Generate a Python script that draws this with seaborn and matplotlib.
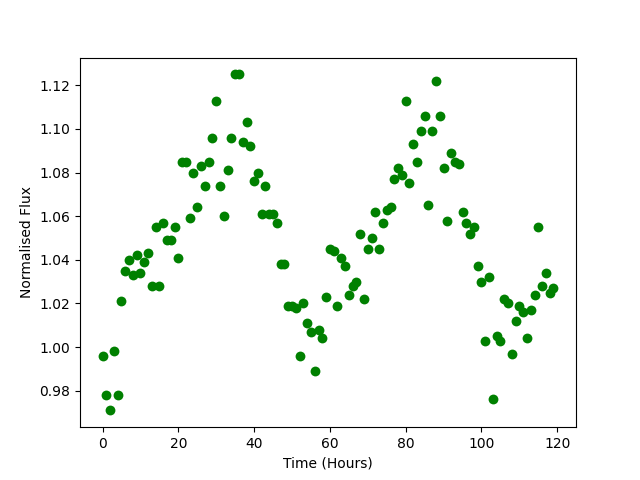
import numpy as np
import pandas as pd
import matplotlib
matplotlib.use("Agg")
import matplotlib.pyplot as plt
import seaborn as sns

# time axis in hours
hours = list(range(120))

# normalised flux
flux = [0.996, 0.978, 0.971, 0.998, 0.978, 1.021, 1.035, 1.040, 1.033, 1.042,
        1.034, 1.039, 1.043, 1.028, 1.055, 1.028, 1.057, 1.049, 1.049, 1.055,
        1.041, 1.085, 1.085, 1.059, 1.080, 1.064, 1.083, 1.074, 1.085, 1.096,
        1.113, 1.074, 1.060, 1.081, 1.096, 1.125, 1.125, 1.094, 1.103, 1.092,
        1.076, 1.080, 1.061, 1.074, 1.061, 1.061, 1.057, 1.038, 1.038, 1.019,
        1.019, 1.018, 0.996, 1.020, 1.011, 1.007, 0.989, 1.008, 1.004, 1.023,
        1.045, 1.044, 1.019, 1.041, 1.037, 1.024, 1.028, 1.030, 1.052, 1.022,
        1.045, 1.050, 1.062, 1.045, 1.057, 1.063, 1.064, 1.077, 1.082, 1.079,
        1.113, 1.075, 1.093, 1.085, 1.099, 1.106, 1.065, 1.099, 1.122, 1.106,
        1.082, 1.058, 1.089, 1.085, 1.084, 1.062, 1.057, 1.052, 1.055, 1.037,
        1.030, 1.003, 1.032, 0.976, 1.005, 1.003, 1.022, 1.020, 0.997, 1.012,
        1.019, 1.016, 1.004, 1.017, 1.024, 1.055, 1.028, 1.034, 1.025, 1.027]

df = pd.DataFrame({"Time (Hours)": hours, "Normalised Flux": flux})

fig, ax = plt.subplots(figsize=(6.4, 4.8), dpi=100)
sns.scatterplot(data=df, x="Time (Hours)", y="Normalised Flux", color="green",
                s=50, linewidth=0, ax=ax)

plt.savefig("out.png")
